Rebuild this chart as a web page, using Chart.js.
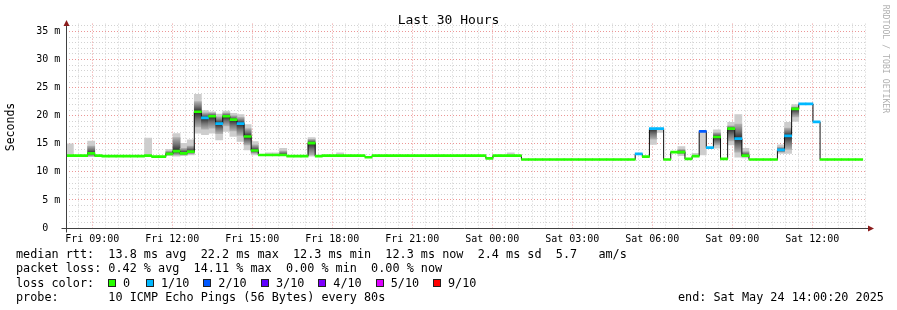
<!DOCTYPE html>
<html>
<head>
<meta charset="utf-8">
<title>Last 30 Hours</title>
<script src="https://cdn.jsdelivr.net/npm/chart.js@4.4.1/dist/chart.umd.min.js"></script>
<style>
  html, body { margin: 0; padding: 0; background: #fff; }
  #wrap { position: relative; width: 897px; height: 310px; overflow: hidden;
          font-family: "DejaVu Sans Mono", monospace; color: #000; }
  #graph { position: absolute; left: 0; top: 0; }
  .txt { position: absolute; white-space: pre; font-size: 11.8px; line-height: 14px; }
  .sq { position: absolute; box-sizing: border-box; width: 8px; height: 8px; border: 1px solid #202020; }
  #title { position: absolute; left: 0; width: 897px; top: 12px; text-align: center;
           font-size: 13px; line-height: 15px; }
  #ylabel { position: absolute; left: -40px; top: 120px; width: 100px; text-align: center;
            font-size: 11.5px; line-height: 14px; transform: rotate(-90deg); }
  #credit { position: absolute; left: 816px; top: 54px; width: 140px; text-align: center; white-space: nowrap;
            font-size: 8.2px; line-height: 10px; color: #b0b0b0; transform: rotate(90deg); }
</style>
</head>
<body>
<div id="wrap">
  <canvas id="graph" width="897" height="310"></canvas>
  <div id="title">Last 30 Hours</div>
  <div id="ylabel">Seconds</div>
  <div id="credit">RRDTOOL / TOBI OETIKER</div>
  <div class="txt" style="left:16px; top:247px">median rtt:  13.8 ms avg  22.2 ms max  12.3 ms min  12.3 ms now  2.4 ms sd  5.7   am/s</div>
  <div class="txt" style="left:16px; top:261px">packet loss: 0.42 % avg  14.11 % max  0.00 % min  0.00 % now</div>
  <div class="txt" style="left:16px; top:275.5px">loss color:</div>
  <div id="losslegend"></div>
  <div class="txt" style="left:16px; top:289.5px">probe:       10 ICMP Echo Pings (56 Bytes) every 80s</div>
  <div class="txt" style="left:678px; top:289.5px">end: Sat May 24 14:00:20 2025</div>
</div>
<script>
// time axis in hours since Fri 00:00, 16 minute consolidated bins
const viewStart = 8.025;
const viewEnd = 38.025;
const binStart = 8.025;
const binHours = 16 / 60;

// median rtt per bin (ms)
const medianMs = [
  12.9, 12.9, 12.9, 13.3, 12.9, 12.8, 12.8, 12.8, 12.8, 12.8,
  12.8, 12.9, 12.7, 12.7, 13.2, 13.7, 13.3, 13.6, 20.7, 19.6,
  19.9, 18.6, 19.9, 19.3, 18.6, 16.3, 13.8, 13.0, 13.0, 13.0,
  13.0, 12.8, 12.8, 12.8, 15.1, 12.8, 12.9, 12.9, 12.9, 12.9,
  12.9, 12.9, 12.6, 12.9, 12.9, 12.9, 12.9, 12.9, 12.9, 12.9,
  12.9, 12.9, 12.9, 12.9, 12.9, 12.9, 12.9, 12.9, 12.9, 12.4,
  12.9, 12.9, 12.9, 12.9, 12.2, 12.2, 12.2, 12.2, 12.2, 12.2,
  12.2, 12.2, 12.2, 12.2, 12.2, 12.2, 12.2, 12.2, 12.2, 12.2,
  13.2, 12.7, 17.7, 17.7, 12.2, 13.5, 13.5, 12.3, 12.8, 17.2,
  14.3, 16.2, 12.3, 17.7, 15.9, 12.9, 12.2, 12.2, 12.2, 12.2,
  13.9, 16.4, 21.2, 22.1, 22.1, 18.9, 12.2, 12.2, 12.2, 12.2,
  12.2, 12.2
];

// bins with packet loss and the loss in tenths
const lossBins = [19, 21, 24, 80, 82, 83, 89, 90, 94, 100, 101, 103, 104, 105];
const lossTenths = [1, 1, 1, 1, 1, 1, 2, 1, 1, 1, 1, 1, 1, 1];

// smoke (spread of the 10 pings) for the bins that have any
const smokeBins = [0, 3, 11, 14, 15, 16, 17, 18, 19, 20, 21, 22, 23, 24, 25, 26, 28, 29, 30, 34,
                   38, 62, 82, 83, 86, 88, 89, 91, 93, 94, 95, 100, 101, 102];
const smokeMin = [12.9, 12.7, 12.9, 12.9, 12.8, 12.9, 13.0, 16.9, 16.6, 16.9, 15.7, 17.2, 16.3, 15.4, 13.9, 13.0, 13.0, 13.0, 12.9, 12.8,
                  12.9, 12.9, 14.9, 17.0, 12.9, 12.8, 13.0, 14.2, 14.8, 12.6, 12.5, 13.3, 13.3, 19.0];
const smokeMax = [15.0, 15.5, 16.0, 14.0, 16.8, 15.1, 15.7, 23.8, 20.9, 20.7, 20.3, 20.8, 20.4, 20.2, 18.4, 15.4, 13.4, 13.4, 14.2, 16.1,
                  13.4, 13.4, 17.7, 17.7, 14.5, 13.3, 17.2, 17.5, 18.8, 20.2, 14.2, 14.8, 18.8, 22.0];
const coreMin = [null, 12.8, null, 13.0, 13.0, 13.0, 13.2, 18.0, 17.6, 17.8, 16.8, 18.2, 17.3, 16.5, 14.8, 13.3, null, null, 13.0, 13.0,
                 null, null, 15.8, null, 13.2, null, null, 14.8, 15.5, 13.5, 12.7, 13.5, 14.0, 19.8];
const coreMax = [null, 14.6, null, 13.7, 16.1, 14.2, 14.6, 22.5, 20.5, 20.5, 19.8, 20.5, 20.0, 19.7, 17.7, 14.8, null, null, 13.7, 15.8,
                 null, null, 17.7, null, 14.0, null, null, 17.0, 18.2, 18.5, 13.6, 14.4, 17.8, 21.6];

// axis labels
const xTickHours = [9, 12, 15, 18, 21, 24, 27, 30, 33, 36];
const xTickLabels = ['Fri 09:00', 'Fri 12:00', 'Fri 15:00', 'Fri 18:00', 'Fri 21:00',
                     'Sat 00:00', 'Sat 03:00', 'Sat 06:00', 'Sat 09:00', 'Sat 12:00'];
const yMax = 36.4;

// loss colour legend
const lossLegendTenths = [0, 1, 2, 3, 4, 5, 9];
const lossLegendLabels = ['0', '1/10', '2/10', '3/10', '4/10', '5/10', '9/10'];
const lossPalette = { 0: '#26ff00', 1: '#00b8ff', 2: '#0059ff', 3: '#5e00ff', 4: '#7e00ff', 5: '#dd00ff', 9: '#ff0000' };

const legendSquareX = [108, 145.5, 203, 260.5, 318, 375.5, 433];
const legendLabelX = [123, 161, 218.3, 276, 333.3, 390.7, 448];
const legend = document.getElementById('losslegend');
lossLegendTenths.forEach((t, i) => {
    const sq = document.createElement('div');
    sq.className = 'sq';
    sq.style.left = legendSquareX[i] + 'px';
    sq.style.top = '279px';
    sq.style.background = lossPalette[t];
    legend.appendChild(sq);
    const lb = document.createElement('div');
    lb.className = 'txt';
    lb.style.left = legendLabelX[i] + 'px';
    lb.style.top = '275.5px';
    lb.textContent = lossLegendLabels[i];
    legend.appendChild(lb);
});

const binCenter = i => binStart + (i + 0.5) * binHours;
const lossOf = i => {
    const k = lossBins.indexOf(i);
    return k < 0 ? 0 : lossTenths[k];
};

const bandHalf = 0.18; // half thickness of the coloured median band (ms)
const bandData = medianMs.map((m, i) => ({ x: binCenter(i), y: [m - bandHalf, m + bandHalf] }));
const lineData = medianMs.map((m, i) => ({ x: binStart + i * binHours, y: m }));
lineData.push({ x: binStart + medianMs.length * binHours, y: medianMs[medianMs.length - 1] });

const smokeData = smokeBins.map((b, j) => ({ x: binCenter(b), y: [smokeMin[j], smokeMax[j]] }));
const coreData = [];
smokeBins.forEach((b, j) => {
    if (coreMin[j] !== null) coreData.push({ x: binCenter(b), y: [coreMin[j], coreMax[j]], med: medianMs[b] });
});

const minorGrid = '#d2d2d2';
const majorGrid = '#ec9696';

function coreFill(ctx) {
    if (ctx.type !== 'data') return '#606060';
    const chart = ctx.chart;
    const y = chart.scales.y;
    if (!y || !chart.chartArea) return '#606060';
    const r = ctx.raw;
    const top = y.getPixelForValue(r.y[1]);
    const bot = y.getPixelForValue(r.y[0]);
    if (bot - top < 1) return '#505050';
    let t = (y.getPixelForValue(r.med) - top) / (bot - top);
    t = Math.max(0, Math.min(1, t));
    const g = chart.ctx.createLinearGradient(0, top, 0, bot);
    g.addColorStop(0, '#b0b0b0');
    g.addColorStop(t * 0.5, '#747474');
    g.addColorStop(t, '#282828');
    g.addColorStop(t + (1 - t) * 0.5, '#747474');
    g.addColorStop(1, '#b0b0b0');
    return g;
}

const axisArrows = {
    id: 'axisArrows',
    afterDraw(chart) {
        const { ctx, chartArea: a } = chart;
        const lx = Math.round(a.left) + 0.5;
        const by = Math.round(a.bottom) + 0.5;
        ctx.save();
        ctx.strokeStyle = '#404040';
        ctx.lineWidth = 1;
        ctx.beginPath();
        ctx.moveTo(lx, by + 4);
        ctx.lineTo(lx, 24);
        ctx.moveTo(lx - 5, by);
        ctx.lineTo(868, by);
        ctx.stroke();
        ctx.fillStyle = '#8b1c1c';
        ctx.beginPath();
        ctx.moveTo(lx, 20);
        ctx.lineTo(lx - 3, 26);
        ctx.lineTo(lx + 3, 26);
        ctx.closePath();
        ctx.fill();
        ctx.beginPath();
        ctx.moveTo(874, by);
        ctx.lineTo(868, by - 3);
        ctx.lineTo(868, by + 3);
        ctx.closePath();
        ctx.fill();
        ctx.restore();
    }
};

const tickFont = { family: 'DejaVu Sans Mono', size: 10 };

new Chart(document.getElementById('graph'), {
    type: 'bar',
    data: {
        datasets: [
            { label: 'smoke', data: smokeData, backgroundColor: '#cdcdcd', borderWidth: 0,
              grouped: false, barPercentage: 1, categoryPercentage: 1, order: 4 },
            { label: 'smoke core', data: coreData, backgroundColor: coreFill, borderWidth: 0,
              grouped: false, barPercentage: 1, categoryPercentage: 1, order: 3 },
            { type: 'line', label: 'median', data: lineData, stepped: true, borderColor: '#101010',
              borderWidth: 1, pointRadius: 0, fill: false, order: 2 },
            { label: 'loss', data: bandData, backgroundColor: ctx => lossPalette[lossOf(ctx.dataIndex)],
              borderWidth: 0, grouped: false, barPercentage: 1, categoryPercentage: 1, order: 1 }
        ]
    },
    options: {
        responsive: false,
        animation: false,
        events: [],
        layout: { padding: { left: 0, top: 23.6, right: 30.7, bottom: 62 } },
        plugins: { legend: { display: false }, tooltip: { enabled: false }, title: { display: false } },
        scales: {
            x: {
                type: 'linear',
                min: viewStart,
                max: viewEnd,
                offset: false,
                afterBuildTicks: scale => {
                    const ticks = [];
                    for (let h = Math.ceil(viewStart * 2) / 2; h <= viewEnd; h += 0.5) ticks.push({ value: h });
                    scale.ticks = ticks;
                },
                afterFit: scale => { scale.height = 20; },
                grid: {
                    offset: false,
                    drawTicks: false,
                    lineWidth: 1,
                    color: ctx => (ctx.tick && ctx.tick.value % 3 === 0) ? majorGrid : minorGrid
                },
                border: { display: false, dash: [1, 2] },
                ticks: {
                    autoSkip: false, maxRotation: 0, minRotation: 0, padding: 5,
                    font: tickFont, color: '#000',
                    callback: v => {
                        const k = xTickHours.indexOf(v);
                        return k < 0 ? '' : xTickLabels[k];
                    }
                }
            },
            y: {
                type: 'linear',
                min: 0,
                max: yMax,
                afterBuildTicks: scale => {
                    const ticks = [];
                    for (let v = 0; v <= Math.floor(yMax); v++) ticks.push({ value: v });
                    scale.ticks = ticks;
                },
                afterFit: scale => { scale.width = 66.3; },
                grid: {
                    drawTicks: false,
                    lineWidth: 1,
                    color: ctx => (ctx.tick && ctx.tick.value % 5 === 0) ? majorGrid : minorGrid
                },
                border: { display: false, dash: [1, 2] },
                ticks: {
                    autoSkip: false, padding: 6, font: tickFont, color: '#000',
                    callback: v => v === 0 ? '0  ' : (v % 5 === 0 ? v + ' m' : '')
                }
            }
        }
    },
    plugins: [axisArrows]
});
</script>
</body>
</html>
